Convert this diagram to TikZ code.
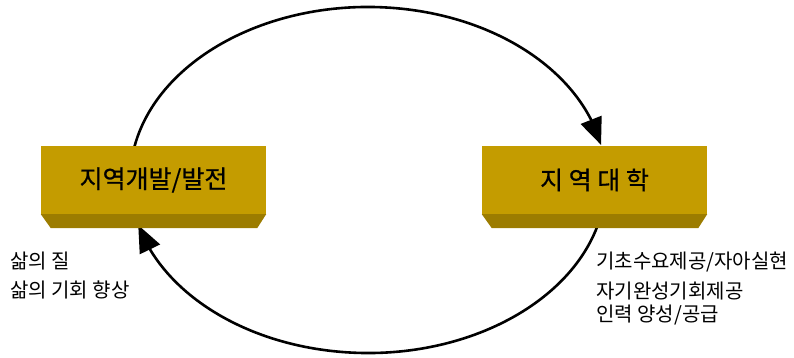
\documentclass[tikz,border=0pt]{standalone}
\usepackage{fontspec}
\setmainfont{Noto Sans CJK KR}
\newfontfamily\panelfont{Noto Sans CJK KR}[FakeBold=0.6]
\usetikzlibrary{arrows.meta,bending,calc}
\definecolor{facegold}{HTML}{C49C00}
\definecolor{edgegold}{HTML}{9C7C00}
\tikzset{
  panel/.style={fill=facegold, draw=none, minimum width=225pt, minimum height=68pt,
    inner sep=0pt, font=\panelfont\fontsize{25}{30}\selectfont},
  flow/.style={line width=2.6pt, -{Triangle[length=27pt,width=22pt,flex]}},
  note/.style={anchor=west, inner sep=0pt, font=\fontsize{20}{24}\selectfont}
}
\begin{document}
\begin{tikzpicture}[x=1pt,y=-1pt]
\useasboundingbox (0,0) rectangle (794,358);
\coordinate (hub) at (368,180);
% start points of the two arcs, hidden under the panels
\coordinate (devout) at ($(hub)+(-170:238 and 173)$);
\coordinate (uniout) at ($(hub)+(10:238 and 173)$);
\draw[flow] (devout) arc[start angle=-170, end angle=-11.7, x radius=238, y radius=173];
\draw[flow] (uniout) arc[start angle=10, end angle=164.9, x radius=238, y radius=173];
% left panel
\node[panel] (dev) at (153.5,180) {지역개발/발전};
\fill[edgegold] (dev.south west) -- (dev.south east) -- ++(-9,14) -- ($(dev.south west)+(10,14)$) -- cycle;
% right panel
\node[panel] (uni) at (594.5,180) {지 역 대 학};
\fill[edgegold] (uni.south west) -- (uni.south east) -- ++(-9,14) -- ($(uni.south west)+(10,14)$) -- cycle;
% notes
\node[note] (l1) at (10,261) {삶의 질};
\node[note] (l2) at (10,290) {삶의 기회 향상};
\node[note] (r1) at (596,262) {기초수요제공/자아실현};
\node[note] (r2) at (596,291) {자기완성기회제공};
\node[note] (r3) at (596,315) {인력 양성/공급};
\end{tikzpicture}
\end{document}
